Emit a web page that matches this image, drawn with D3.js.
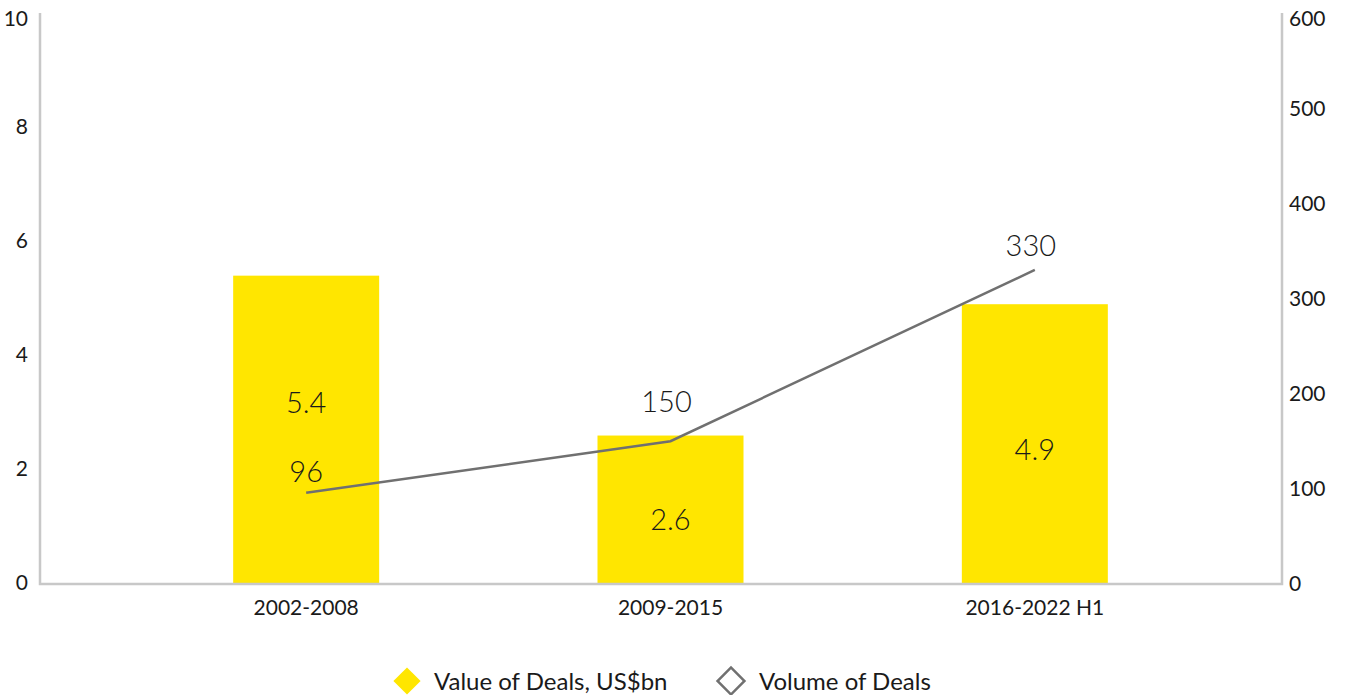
<!DOCTYPE html>
<html><head><meta charset="utf-8">
<script src="https://cdn.jsdelivr.net/npm/d3@7"></script>
<style>
body{margin:0;background:#fff;}
text{font-family:"Lato","Noto Sans",sans-serif;fill:#1a1a1a;}
</style></head>
<body><svg id="c" width="1348" height="695"></svg>
<script>
const categories = ["2002-2008","2009-2015","2016-2022 H1"];
const valueOfDeals = [5.4, 2.6, 4.9];
const volumeOfDeals = [96, 150, 330];
const leftTicks = [0,2,4,6,8,10];
const rightTicks = [0,100,200,300,400,500,600];
const legendLabels = ["Value of Deals, US$bn","Volume of Deals"];

const svg = d3.select("#c");
const x0 = 40, x1 = 1282, yTop = 13, yBot = 584;
const x = d3.scaleBand().domain(categories).range([124, 1217]).paddingInner(0.6).paddingOuter(0.3);
const yL = d3.scaleLinear().domain([0,10]).range([yBot, yTop]);
const yR = d3.scaleLinear().domain([0,600]).range([yBot, yTop]);
const cx = c => x(c) + x.bandwidth()/2;

svg.selectAll("rect.bar").data(categories).enter().append("rect")
  .attr("x", d => cx(d) - 73).attr("width", 146)
  .attr("y", (d,i) => yL(valueOfDeals[i]))
  .attr("height", (d,i) => yBot - yL(valueOfDeals[i]))
  .attr("fill", "#FFE600");

svg.append("path").attr("d", `M${x0},${yTop}V${yBot}H${x1}V${yTop}`)
  .attr("fill","none").attr("stroke","#c8c8c8").attr("stroke-width",2.5);

svg.selectAll("text.tl").data(leftTicks).enter().append("text")
  .attr("x", 28).attr("y", d => yL(d)).attr("dy", d => d===10 ? "0.6em" : "0.3em")
  .attr("text-anchor","end").attr("font-size",21).text(d => d);
svg.selectAll("text.tr").data(rightTicks).enter().append("text")
  .attr("x", 1289).attr("y", d => yR(d)).attr("dy", d => d===600 ? "0.6em" : "0.35em")
  .attr("text-anchor","start").attr("font-size",21).text(d => d);
svg.selectAll("text.cat").data(categories).enter().append("text")
  .attr("x", d => cx(d)).attr("y", 615).attr("text-anchor","middle")
  .attr("font-size",21).text(d => d);

const line = d3.line().x((d,i) => cx(categories[i])).y(d => yR(d));
svg.append("path").datum(volumeOfDeals).attr("d", line)
  .attr("fill","none").attr("stroke","#707070").attr("stroke-width",2.5);

const barLabelShift = [-27, 10, 6];
svg.selectAll("text.bv").data(valueOfDeals).enter().append("text")
  .attr("x", (d,i) => cx(categories[i]))
  .attr("y", (d,i) => yL(d/2) + barLabelShift[i]).attr("dy","0.35em")
  .attr("text-anchor","middle").attr("font-size",29).attr("font-weight",300)
  .text(d => d.toFixed(1));
const lineLabelShift = [-21, -39, -24];
svg.selectAll("text.lv").data(volumeOfDeals).enter().append("text")
  .attr("x", (d,i) => cx(categories[i]) - (i===0?0:4))
  .attr("y", (d,i) => yR(d) + lineLabelShift[i]).attr("dy","0.35em")
  .attr("text-anchor","middle").attr("font-size",29).attr("font-weight",300)
  .text(d => d);

const lg = svg.append("g");
lg.append("path").attr("d", d3.symbol().type(d3.symbolSquare).size(370)()).attr("transform","translate(407,681) rotate(45)").attr("fill","#FFE600");
lg.append("text").attr("x",434).attr("y",681).attr("dy","0.36em").attr("font-size",24).text(legendLabels[0]);
lg.append("path").attr("d", d3.symbol().type(d3.symbolSquare).size(360)()).attr("transform","translate(731,681) rotate(45)")
  .attr("fill","#fff").attr("stroke","#707070").attr("stroke-width",2.5);
lg.append("text").attr("x",759).attr("y",681).attr("dy","0.36em").attr("font-size",24).text(legendLabels[1]);
</script></body></html>
